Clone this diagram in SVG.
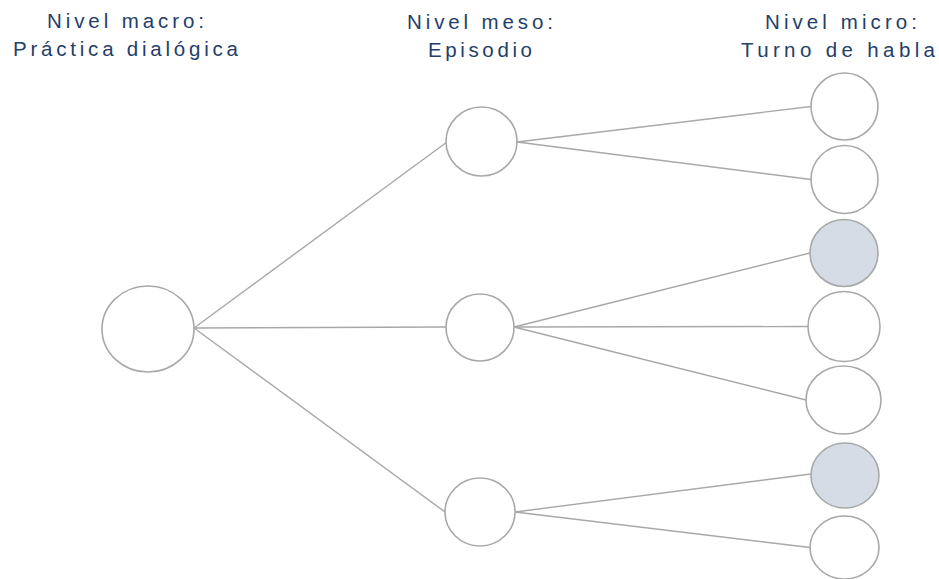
<svg xmlns="http://www.w3.org/2000/svg" width="939" height="579" viewBox="0 0 939 579">
  <style>
    .lbl { font-family: "Liberation Sans", "Open Sans", Arial, sans-serif; font-size: 20.5px; fill: #243E6A; }
    .node { fill: #FFFFFF; stroke: #A8A8A8; stroke-width: 1.6; }
    .node.hl { fill: #D6DCE5; }
    .edge { stroke: #A8A8A8; stroke-width: 1.4; fill: none; }
  </style>

  <!-- Level headings -->
  <g id="heading-macro">
    <text class="lbl" x="47" y="28" textLength="157" lengthAdjust="spacing">Nivel macro:</text>
    <text class="lbl" x="13" y="56" textLength="225" lengthAdjust="spacing">Práctica dialógica</text>
  </g>
  <g id="heading-meso">
    <text class="lbl" x="407" y="29" textLength="146" lengthAdjust="spacing">Nivel meso:</text>
    <text class="lbl" x="428" y="57" textLength="104" lengthAdjust="spacing">Episodio</text>
  </g>
  <g id="heading-micro">
    <text class="lbl" x="765" y="29" textLength="152" lengthAdjust="spacing">Nivel micro:</text>
    <text class="lbl" x="741" y="57" textLength="194" lengthAdjust="spacing">Turno de habla</text>
  </g>

  <!-- Connectors -->
  <g id="connectors">
    <line class="edge" x1="194" y1="328" x2="447" y2="142"/>
    <line class="edge" x1="194" y1="328" x2="446" y2="327"/>
    <line class="edge" x1="194" y1="328" x2="445" y2="512"/>
    <line class="edge" x1="517" y1="142" x2="811" y2="106.5"/>
    <line class="edge" x1="517" y1="142" x2="811" y2="179.5"/>
    <line class="edge" x1="514" y1="327" x2="810" y2="253"/>
    <line class="edge" x1="514" y1="327" x2="808" y2="326.5"/>
    <line class="edge" x1="514" y1="327" x2="806" y2="400"/>
    <line class="edge" x1="515" y1="512" x2="811" y2="474"/>
    <line class="edge" x1="515" y1="512" x2="810" y2="547.5"/>
  </g>

  <!-- Macro level -->
  <g id="macro"><ellipse class="node" cx="148" cy="329" rx="46" ry="43"/></g>

  <!-- Meso level -->
  <g id="meso-1"><ellipse class="node" cx="481.5" cy="141.5" rx="35.5" ry="34.5"/></g>
  <g id="meso-2"><ellipse class="node" cx="480" cy="327.5" rx="34" ry="33.5"/></g>
  <g id="meso-3"><ellipse class="node" cx="480" cy="512" rx="35" ry="34"/></g>

  <!-- Micro level -->
  <g id="micro-1"><ellipse class="node" cx="844.5" cy="106.5" rx="33.5" ry="33.5"/></g>
  <g id="micro-2"><ellipse class="node" cx="844.5" cy="179.5" rx="33.5" ry="34"/></g>
  <g id="micro-3"><ellipse class="node hl" cx="844" cy="253" rx="34" ry="33.5"/></g>
  <g id="micro-4"><ellipse class="node" cx="844" cy="326.5" rx="36" ry="35"/></g>
  <g id="micro-5"><ellipse class="node" cx="843.5" cy="400" rx="37.5" ry="34"/></g>
  <g id="micro-6"><ellipse class="node hl" cx="845" cy="475.5" rx="34" ry="32.5"/></g>
  <g id="micro-7"><ellipse class="node" cx="844.5" cy="547.5" rx="34.5" ry="31.5"/></g>
</svg>
